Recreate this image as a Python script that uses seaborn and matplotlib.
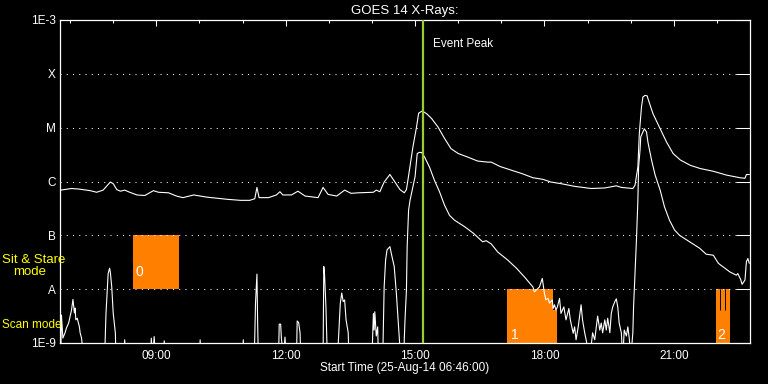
import numpy as np
import pandas as pd
import matplotlib
matplotlib.use("Agg")
import matplotlib.pyplot as plt
import matplotlib.dates as mdates
from matplotlib.ticker import NullLocator
import seaborn as sns

# GOES 14 X-ray flux, 25-Aug-2014, minutes after 06:46 and log10(W m^-2)
start = pd.Timestamp("2014-08-25 06:46:00")

long_min = [1, 16, 26, 42, 51, 60, 70, 74, 79, 84, 90, 97, 107, 118, 130, 137, 151, 162, 171, 186,
            204, 232, 251, 264, 271, 274, 277, 290, 301, 306, 310, 322, 331, 341, 359, 366, 373, 385, 396, 405,
            415, 436, 440, 445, 451, 459, 466, 473, 479, 482, 484, 491, 496, 499, 504, 510, 517, 526, 535, 544,
            554, 568, 581, 595, 600, 612, 628, 642, 658, 672, 683, 697, 716, 739, 758, 774, 781, 797, 800, 804,
            806, 809, 811, 814, 817, 818, 825, 835, 844, 853, 863, 877, 891, 909, 927, 946, 953, 955, 959]
long_log = [-6.16, -6.13, -6.14, -6.17, -6.20, -6.16, -6.01, -6.04, -6.15, -6.18,
            -6.16, -6.20, -6.25, -6.26, -6.17, -6.20, -6.21, -6.27, -6.30, -6.25,
            -6.29, -6.33, -6.35, -6.35, -6.32, -6.11, -6.30, -6.30, -6.25, -6.19,
            -6.25, -6.25, -6.18, -6.27, -6.30, -6.11, -6.24, -6.27, -6.16, -6.22,
            -6.21, -6.20, -6.16, -6.19, -6.01, -5.87, -6.01, -6.15, -6.21, -6.15,
            -5.98, -5.36, -4.99, -4.73, -4.69, -4.74, -4.83, -4.99, -5.20, -5.39,
            -5.48, -5.55, -5.62, -5.64, -5.64, -5.72, -5.79, -5.85, -5.93, -5.96,
            -6.01, -6.04, -6.09, -6.13, -6.12, -6.08, -6.11, -6.13, -6.07, -5.73,
            -5.11, -4.62, -4.43, -4.40, -4.41, -4.46, -4.74, -5.02, -5.27, -5.48,
            -5.60, -5.70, -5.76, -5.81, -5.88, -5.93, -5.94, -5.87, -5.87]

short_min = [1, 2, 4, 7, 9, 12, 14, 16, 18, 20, 21, 22, 24, 27, 28, 30, 33,
             62, 64, 66, 67, 69, 70, 72, 74, 77, 78, 89, 90, 92, 126, 127, 129, 131, 133, 143, 145, 147,
             194, 195, 196, 254, 255, 256, 270, 271, 272, 274, 275, 276,
             304, 305, 307, 308, 311, 313, 315, 329, 330, 332, 334, 335,
             366, 367, 368, 370, 372, 386, 388, 390, 392, 394, 396, 398, 401, 402,
             434, 436, 437, 438, 440, 442, 443, 449, 451, 453, 455, 457, 459, 461, 465, 468, 471, 474,
             478, 480, 482, 483, 485, 487, 490, 494, 497, 500, 503, 507, 514, 521, 528, 535, 542, 549,
             563, 575, 588, 593, 600, 609, 623, 635, 646, 658, 660, 667, 671, 674, 676, 679, 681, 685,
             686, 688, 690, 692, 695, 697, 701, 704, 708, 710, 714, 716, 718, 721, 725, 727, 730, 732,
             737, 741, 744, 748, 751, 753, 755, 758, 760, 762, 765, 767, 769, 772, 774, 776, 778, 781,
             783, 785, 788, 790, 792, 794, 797, 798, 800, 802, 804, 805, 807, 808, 811, 813, 816, 818,
             823, 828, 835, 841, 848, 855, 862, 876, 883, 890, 899, 909, 916, 925, 932, 941, 943, 947,
             949, 953, 955, 957, 959]
short_log = [-9.3, -8.48, -8.91, -8.81, -8.72, -8.63, -8.51, -8.39, -8.19, -8.44, -8.35, -8.57, -8.54,
             -8.70, -8.81, -8.91, -9.3,
             -9.3, -8.45, -7.96, -7.71, -7.61, -7.68, -7.96, -8.44, -8.81, -9.3, -9.3, -8.94, -9.3,
             -9.3, -8.91, -9.3, -8.88, -9.3, -9.3, -8.96, -9.3,
             -9.3, -8.94, -9.3, -9.3, -8.94, -9.3, -9.3, -8.88, -8.26, -7.72, -8.65, -9.3,
             -9.3, -8.65, -8.65, -8.91, -9.3, -8.89, -9.3, -9.3, -8.59, -8.62, -8.81, -9.3,
             -9.3, -7.58, -7.71, -8.33, -9.3, -9.3, -8.76, -8.26, -8.07, -8.23, -8.20, -8.57, -8.81, -9.3,
             -9.3, -8.45, -8.76, -8.42, -8.87, -8.70, -9.3, -9.3, -7.96, -7.46, -7.27, -7.24, -7.21, -7.34,
             -7.58, -8.08, -8.70, -9.3,
             -9.3, -8.57, -8.02, -7.21, -6.53, -6.35, -6.16, -5.91, -5.48, -5.46, -5.46, -5.54, -5.73,
             -5.98, -6.19, -6.44, -6.63, -6.72,
             -6.84, -6.96, -7.12, -7.10, -7.16, -7.31, -7.46, -7.61, -7.77, -7.96, -8.05, -7.96, -7.80,
             -8.08, -8.20, -8.17, -8.26, -8.20,
             -8.36, -8.29, -8.39, -8.33, -8.17, -8.45, -8.33, -8.57, -8.36, -8.57, -8.82, -8.70, -8.94,
             -8.70, -8.29, -8.57, -8.81, -8.94,
             -9.3, -8.81, -8.94, -8.50, -8.76, -8.63, -8.81, -8.57, -8.76, -8.54, -8.81, -8.45, -8.33,
             -8.23, -8.18, -8.33, -8.63, -8.81,
             -9.3, -8.76, -8.87, -8.70, -8.91, -9.3, -8.81, -8.33, -7.71, -7.09, -6.35, -5.73, -5.42,
             -5.17, -5.08, -5.02, -5.08, -5.27,
             -5.60, -5.88, -6.16, -6.47, -6.72, -6.90, -7.00, -7.12, -7.18, -7.24, -7.35, -7.37, -7.52,
             -7.61, -7.68, -7.74, -7.71, -7.82,
             -7.91, -7.83, -7.49, -7.43, -7.52]

# observing-mode blocks (minutes after start)
box_start = [102, 622, 686, 912]
box_end = [166, 686, 692, 932]
box_low = [1e-8, 1e-9, 1e-9, 1e-9]
box_high = [1e-7, 1e-8, 10 ** -8.39, 1e-8]
box_label = ["0", "1", "", "2"]
gap_min = [918, 925]

event_peak = pd.Timestamp("2014-08-25 15:10:40")

level_vals = [1e-9, 1e-8, 1e-7, 1e-6, 1e-5, 1e-4, 1e-3]
level_labels = ["1E-9", "A", "B", "C", "M", "X", "1E-3"]

df_long = pd.DataFrame({"time": start + pd.to_timedelta(long_min, unit="m"),
                        "flux": 10 ** np.array(long_log)})
df_short = pd.DataFrame({"time": start + pd.to_timedelta(short_min, unit="m"),
                         "flux": 10 ** np.array(short_log)})

sns.set_theme(style="dark")
plt.rcParams["font.family"] = ["Liberation Sans", "DejaVu Sans"]

W, H = 768, 384
fig = plt.figure(figsize=(W / 100, H / 100), dpi=100, facecolor="black")
ax = fig.add_axes([60 / W, 41 / H, 690 / W, 323 / H], facecolor="black")

orange = "#ff8000"
lw = 0.8

for s, e, lo, hi in zip(box_start, box_end, box_low, box_high):
    ax.fill_between([start + pd.Timedelta(minutes=s), start + pd.Timedelta(minutes=e)],
                    lo, hi, color=orange, lw=0, zorder=1)
ax.vlines([start + pd.Timedelta(minutes=g) for g in gap_min], 10 ** -8.39, 1e-8,
          color="black", lw=0.7, zorder=1.5)

# box labels (offsets in points from lower-left corner)
label_off = [(1.5, 9.5), (2.5, 3.0), (0, 0), (1.0, 3.0)]
for s, lo, lab, off in zip(box_start, box_low, box_label, label_off):
    if lab:
        ax.annotate(lab, (start + pd.Timedelta(minutes=s), lo), xytext=off,
                    textcoords="offset points", color="white", fontsize=10,
                    ha="left", va="baseline", zorder=4)

sns.lineplot(data=df_long, x="time", y="flux", ax=ax, color="white", lw=lw,
             estimator=None, zorder=3)
sns.lineplot(data=df_short, x="time", y="flux", ax=ax, color="white", lw=lw,
             estimator=None, zorder=3)

ax.axvline(event_peak, color="#9acd32", lw=1.6, zorder=5)
ax.annotate("Event Peak", (event_peak, 0.917), xycoords=("data", "axes fraction"),
            xytext=(7.5, 0), textcoords="offset points", color="white",
            fontsize=8.5, ha="left", va="baseline")

ax.set_yscale("log")
ax.set_ylim(1e-9, 1e-3)
ax.set_xlim(start, start + pd.Timedelta(hours=16))
ax.set_yticks(level_vals, level_labels)
ax.yaxis.set_minor_locator(NullLocator())

ax.xaxis.set_major_locator(mdates.HourLocator(byhour=range(0, 24, 3)))
ax.xaxis.set_minor_locator(mdates.HourLocator())
ax.xaxis.set_major_formatter(mdates.DateFormatter("%H:%M"))

ax.grid(True, axis="y", color="white", lw=0.75, linestyle=(0, (1, 5)))
ax.grid(False, axis="x")
ax.set_axisbelow(False)

ax.tick_params(axis="both", which="both", direction="in", colors="white",
               top=True, right=True, labelsize=8.5)
ax.tick_params(axis="y", length=10, width=0.75, pad=3)
ax.tick_params(axis="x", which="major", length=4.5, width=0.75, pad=5)
ax.tick_params(axis="x", which="minor", length=2.5, width=0.75)
for sp in ax.spines.values():
    sp.set_color("white")
    sp.set_linewidth(0.9)

ax.set_xlabel("")
ax.set_ylabel("")
ax.set_title("GOES 14 X-Rays:", color="white", fontsize=9.5, pad=4)

fig.text(405 / W, (H - 371) / H, "Start Time (25-Aug-14 06:46:00)", color="white",
         fontsize=8.5, ha="center", va="baseline")
fig.text(2 / W, (H - 263) / H, "Sit & Stare", color="yellow", fontsize=9.5, va="baseline")
fig.text(13 / W, (H - 275) / H, "mode", color="yellow", fontsize=9.5, va="baseline")
fig.text(2 / W, (H - 328) / H, "Scan mode", color="yellow", fontsize=8.5, va="baseline")

fig.savefig("out.png", dpi=100, facecolor="black")
